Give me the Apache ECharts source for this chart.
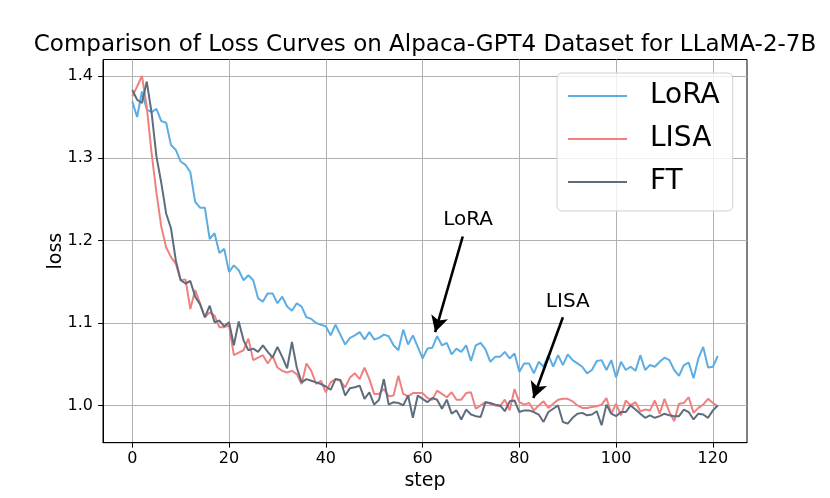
<!DOCTYPE html>
<html>
<head>
<meta charset="utf-8">
<title>Loss Curves</title>
<script src="https://cdn.jsdelivr.net/npm/echarts@6/dist/echarts.min.js"></script>
<style>
html, body { margin: 0; padding: 0; background: #fff; }
#chart { width: 830px; height: 498px; }
</style>
</head>
<body>
<div id="chart"></div>
<script>
// loss per step
var lora = [1.369,1.350,1.381,1.359,1.356,1.360,1.345,1.343,1.316,1.310,
    1.296,1.292,1.283,1.247,1.240,1.240,1.202,1.209,1.185,1.190,
    1.162,1.170,1.164,1.152,1.158,1.152,1.130,1.126,1.136,1.136,
    1.124,1.132,1.120,1.115,1.124,1.120,1.107,1.105,1.100,1.098,
    1.096,1.085,1.098,1.086,1.074,1.082,1.085,1.089,1.080,1.089,
    1.080,1.082,1.086,1.084,1.073,1.067,1.092,1.074,1.085,1.071,
    1.057,1.069,1.070,1.084,1.073,1.076,1.062,1.069,1.065,1.073,
    1.054,1.073,1.076,1.068,1.053,1.059,1.059,1.065,1.057,1.063,
    1.041,1.051,1.051,1.039,1.053,1.047,1.061,1.047,1.061,1.049,
    1.062,1.055,1.051,1.047,1.039,1.043,1.054,1.055,1.043,1.055,
    1.034,1.053,1.043,1.047,1.042,1.061,1.043,1.049,1.047,1.053,
    1.058,1.055,1.043,1.036,1.049,1.052,1.033,1.057,1.071,1.046,
    1.047,1.060];

var lisa = [1.375,1.387,1.400,1.362,1.306,1.258,1.217,1.192,1.180,1.172,
    1.152,1.153,1.117,1.140,1.124,1.107,1.113,1.109,1.095,1.095,
    1.097,1.061,1.064,1.067,1.081,1.055,1.058,1.061,1.051,1.060,
    1.046,1.042,1.040,1.042,1.038,1.026,1.051,1.042,1.026,1.030,
    1.016,1.028,1.032,1.030,1.022,1.034,1.039,1.032,1.046,1.032,
    1.014,1.014,1.020,1.011,1.012,1.036,1.014,1.011,1.015,1.015,
    1.015,1.009,1.007,1.018,1.014,1.010,1.016,1.007,1.007,1.015,
    1.016,0.996,1.000,1.004,1.002,1.000,0.999,1.007,0.994,1.020,
    1.004,1.001,1.003,0.994,1.000,1.005,0.997,1.002,1.007,1.008,
    1.008,1.005,1.000,0.997,0.997,0.998,0.999,1.001,1.009,0.990,
    1.002,0.988,1.006,1.000,1.004,0.993,0.995,0.994,1.006,0.990,
    1.008,0.992,0.981,1.002,1.003,1.010,0.991,0.997,1.001,1.008,
    1.003,0.999];

var ft = [1.383,1.371,1.367,1.393,1.355,1.302,1.270,1.233,1.215,1.176,
    1.152,1.148,1.151,1.132,1.123,1.107,1.121,1.101,1.103,1.096,
    1.101,1.073,1.102,1.079,1.067,1.069,1.065,1.073,1.065,1.058,
    1.071,1.059,1.045,1.077,1.046,1.028,1.032,1.030,1.028,1.026,
    1.023,1.019,1.032,1.031,1.012,1.021,1.022,1.024,1.008,1.016,
    1.001,1.007,1.032,1.001,1.004,1.003,1.000,1.012,0.985,1.012,
    1.008,1.004,1.009,1.007,0.996,1.007,0.990,0.994,0.983,0.995,
    0.989,0.987,0.986,1.004,1.003,1.001,1.000,0.993,1.005,1.006,
    0.992,0.994,0.994,0.992,0.989,0.980,0.992,0.996,1.000,0.980,
    0.978,0.985,0.990,0.991,0.988,0.989,0.993,0.976,1.001,0.990,
    0.987,0.992,0.992,1.000,0.995,0.990,0.985,0.988,0.985,0.987,
    0.990,0.988,0.987,0.987,0.995,0.992,0.983,0.990,0.989,0.985,
    0.994,1.000];

// step index of every point
var steps = lora.map(function (v, i) { return i; });

var xTicks = [0, 20, 40, 60, 80, 100, 120];
var yTicks = [1.0, 1.1, 1.2, 1.3, 1.4];

// annotation text spots and arrows [tail, head] in data coords
var notes = [
    { name: 'LoRA', text: [69.4, 1.225], tail: [68.3, 1.205], head: [62.6, 1.089] },
    { name: 'LISA', text: [90.0, 1.126], tail: [89.0, 1.107], head: [82.9, 1.009] }
];

var FONT = 'DejaVu Sans';

function pairs(vals) {
    var out = [];
    for (var i = 0; i < vals.length; i++) {
        out.push([steps[i], vals[i]]);
    }
    return out;
}

var chart = echarts.init(document.getElementById('chart'), null, { renderer: 'canvas' });

var option = {
    animation: false,
    backgroundColor: '#fff',
    textStyle: { fontFamily: FONT },
    title: {
        text: 'Comparison of Loss Curves on Alpaca-GPT4 Dataset for LLaMA-2-7B',
        left: 425,
        top: 34,
        padding: 0,
        textAlign: 'center',
        textStyle: { fontFamily: FONT, fontSize: 23, fontWeight: 'normal', color: '#000' }
    },
    grid: {
        left: 103, right: 83, top: 59.5, bottom: 55.3,
        show: true, borderColor: '#000', borderWidth: 1, backgroundColor: 'transparent'
    },
    legend: {
        orient: 'vertical',
        left: 557,
        top: 73,
        padding: [9, 13, 15, 11],
        itemWidth: 59,
        itemHeight: 2,
        itemGap: 15,
        icon: 'rect',
        backgroundColor: 'rgba(255,255,255,0.8)',
        borderColor: '#d0d0d0',
        borderWidth: 1,
        borderRadius: 5,
        formatter: '{t|{name}}',
        textStyle: {
            rich: { t: { fontFamily: FONT, fontSize: 28, lineHeight: 32, color: '#000', padding: [0, 0, 0, 18] } }
        },
        data: ['LoRA', 'LISA', 'FT']
    },
    xAxis: {
        type: 'value',
        min: -6.05,
        max: 127.05,
        name: 'step',
        nameLocation: 'middle',
        nameGap: 29,
        nameMoveOverlap: false,
        nameTextStyle: { fontFamily: FONT, fontSize: 19, color: '#000' },
        axisLine: { show: true, onZero: false, lineStyle: { color: '#000', width: 1 } },
        axisTick: { show: true, length: 4.9, customValues: xTicks, lineStyle: { color: '#000' } },
        axisLabel: { customValues: xTicks, margin: 8, fontFamily: FONT, fontSize: 16, color: '#000' },
        splitLine: { show: true, lineStyle: { color: '#b0b0b0', width: 1 } }
    },
    yAxis: {
        type: 'value',
        min: 0.9548,
        max: 1.4198,
        name: 'loss',
        nameLocation: 'middle',
        nameGap: 37,
        nameMoveOverlap: false,
        nameTextStyle: { fontFamily: FONT, fontSize: 19, color: '#000' },
        axisLine: { show: true, onZero: false, lineStyle: { color: '#000', width: 1 } },
        axisTick: { show: true, length: 4.9, customValues: yTicks, lineStyle: { color: '#000' } },
        axisLabel: {
            customValues: yTicks, margin: 10, fontFamily: FONT, fontSize: 16, color: '#000',
            formatter: function (v) { return v.toFixed(1); }
        },
        splitLine: { show: true, lineStyle: { color: '#b0b0b0', width: 1 } }
    },
    series: [
        {
            name: 'LoRA', type: 'line', data: pairs(lora),
            showSymbol: false, symbol: 'none',
            itemStyle: { color: '#5DADE2' },
            lineStyle: { color: '#5DADE2', width: 2 }
        },
        {
            name: 'LISA', type: 'line', data: pairs(lisa),
            showSymbol: false, symbol: 'none',
            itemStyle: { color: '#F08080' },
            lineStyle: { color: '#F08080', width: 2 }
        },
        {
            name: 'FT', type: 'line', data: pairs(ft),
            showSymbol: false, symbol: 'none',
            itemStyle: { color: '#5D6D7E' },
            lineStyle: { color: '#5D6D7E', width: 2 },
            markLine: {
                silent: true,
                symbol: ['none', 'arrow'],
                symbolSize: [13, 16],
                label: { show: false },
                lineStyle: { color: '#000', width: 2.6, type: 'solid' },
                data: notes.map(function (n) {
                    return [{ coord: n.tail }, { coord: n.head }];
                })
            },
            markPoint: {
                silent: true,
                symbol: 'circle',
                symbolSize: 0,
                label: {
                    show: true, position: 'inside', fontFamily: FONT, fontSize: 20, color: '#000',
                    formatter: function (p) { return p.name; }
                },
                data: notes.map(function (n) {
                    return { name: n.name, coord: n.text };
                })
            }
        }
    ]
};

chart.setOption(option);
</script>
</body>
</html>
